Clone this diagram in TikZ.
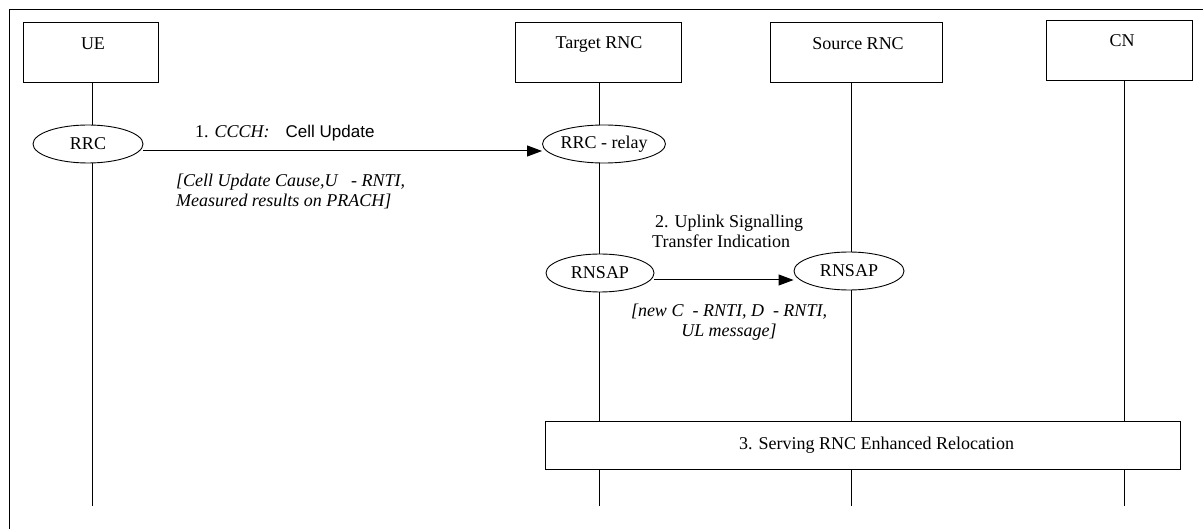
\documentclass[tikz,border=0pt]{standalone}
\usepackage{fontspec}
\setmainfont{Liberation Serif}
\setsansfont{Liberation Sans}
\usetikzlibrary{arrows.meta,shapes.geometric}
\begin{document}
\begin{tikzpicture}[x=1pt,y=-1pt,
  every node/.style={font=\fontsize{18}{20}\selectfont},
  entity/.style={draw,line width=1pt,minimum width=#1,minimum height=60pt,text depth=0pt,anchor=north,inner sep=0pt},
  proto/.style={draw,line width=0.9pt,ellipse,minimum width=#1,minimum height=38pt,inner sep=0pt},
  life/.style={line width=0.9pt},
  msg/.style={line width=1pt,-{Triangle[length=15pt,width=11pt]}},
  note/.style={font=\fontsize{18}{20}\selectfont\itshape,align=left,inner sep=0pt},
  lbl/.style={align=left,inner sep=0pt}]
\useasboundingbox (0,0) rectangle (1203,529);
\draw[line width=1pt] (9,529) -- (9,10) -- (1203,10);
% entities
\node[entity=135pt] (ue) at (91,22) {};
\node at (93,44) {UE};
\node[entity=166pt] (trnc) at (598,22) {};
\node at (599,44) {Target RNC};
\node[entity=172pt] (srnc) at (856,22) {};
\node at (858,44) {Source RNC};
\node[entity=146pt] (cn) at (1119,20) {};
\node at (1122,41) {CN};
% protocol ellipses
\node[proto=110pt] (rrc) at (88,144) {RRC};
\node[proto=110pt] (relay) at (604,144) {RRC - relay};
\node[proto=108pt] (rn1) at (600,273) {RNSAP};
\node[proto=110pt] (rn2) at (849,271) {RNSAP};
% relocation box
\node[draw,line width=1pt,minimum width=635pt,minimum height=47pt,inner sep=0pt] (reloc) at (862.5,445.5) {\hspace*{28pt}3. Serving RNC Enhanced Relocation};
% end points
\coordinate (ueend) at (92,506);
\coordinate (tend) at (599,506);
\coordinate (send) at (851,506);
\coordinate (cend) at (1124,506);
% lifelines
\draw[life] (ue.south -| 92,0) -- (rrc.north -| 92,0);
\draw[life] (rrc.south -| 92,0) -- (ueend);
\draw[life] (trnc.south -| 599,0) -- (relay.north -| 599,0);
\draw[life] (relay.south -| 599,0) -- (rn1.north -| 599,0);
\draw[life] (rn1.south -| 599,0) -- (reloc.north -| 599,0);
\draw[life] (reloc.south -| 599,0) -- (tend);
\draw[life] (srnc.south -| 851,0) -- (rn2.north -| 851,0);
\draw[life] (rn2.south -| 851,0) -- (reloc.north -| 851,0);
\draw[life] (reloc.south -| 851,0) -- (send);
\draw[life] (cn.south -| 1124,0) -- (reloc.north -| 1124,0);
\draw[life] (reloc.south -| 1124,0) -- (cend);
% messages
\draw[msg] (rrc.east |- 0,151) -- (relay.west |- 0,151);
\node[anchor=base west,inner sep=0pt] (m1) at (195,138) {1. \textit{CCCH:}\hspace{16pt}{\sffamily\fontsize{17}{20}\selectfont Cell Update}};
\node[note,anchor=base west] (n1) at (176,207) {[Cell Update Cause,U\ \ \ - RNTI,\\Measured results on PRACH]};
\draw[msg] (rn1.east |- 0,280) -- (rn2.west |- 0,280);
\node[lbl,anchor=base west] (m2) at (652,248) {\,2. Uplink Signalling\\Transfer Indication};
\node[note,align=center,anchor=base] (n2) at (729,337) {[new C\ \ - RNTI, D\ \ - RNTI,\\UL message]};
\end{tikzpicture}
\end{document}
